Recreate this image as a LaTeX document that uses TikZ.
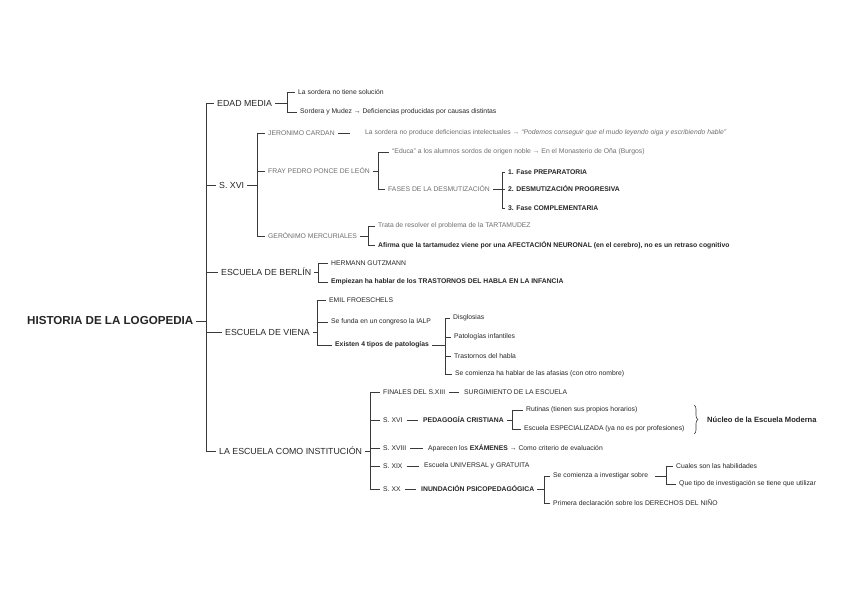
\documentclass[tikz,border=0pt]{standalone}
\usepackage{fontspec}
\setmainfont{Liberation Sans}
\usetikzlibrary{decorations.pathreplacing}
\definecolor{ink}{HTML}{262626}
\definecolor{soft}{HTML}{6E6E6E}
\definecolor{rule}{HTML}{3A3A3A}
\tikzset{
  lbl/.style={anchor=west, inner xsep=3pt, inner ysep=1pt, xshift=-3pt, text=ink},
  sm/.style={lbl, font=\fontsize{6.8}{8}\selectfont},
  smg/.style={sm, text=soft},
  smb/.style={lbl, font=\fontsize{6.8}{8}\selectfont\bfseries},
  big/.style={lbl, font=\fontsize{8.8}{10}\selectfont},
  ln/.style={draw=rule, line width=0.8pt},
}
% #1 options for parent line, #2 parent, #3 bracket x, #4 first child, #5 last child, #6 all children
\newcommand\brgroup[6]{%
  \coordinate (bx-#2) at (#3,0);
  \draw[ln,#1] (#2.east) -- (#2.east -| bx-#2);
  \draw[ln] (#4.west -| bx-#2) -- (#5.west -| bx-#2);
  \foreach \c in {#6} { \draw[ln] (\c.west -| bx-#2) -- (\c.west); }
}
\begin{document}
\begin{tikzpicture}[x=1pt,y=-1pt]
\useasboundingbox[fill=white] (0,0) rectangle (848,599);

% root and level 2
\node[lbl, font=\fontsize{11.6}{13}\selectfont\bfseries] (root) at (27,321) {HISTORIA DE LA LOGOPEDIA};
\node[big] (edad) at (217,103) {EDAD MEDIA};
\node[big] (sxvi) at (219,185) {S. XVI};
\node[big] (berlin) at (221,272) {ESCUELA DE BERLÍN};
\node[big] (viena) at (225,332) {ESCUELA DE VIENA};
\node[big] (inst) at (219,451) {LA ESCUELA COMO INSTITUCIÓN};

% Edad media
\node[sm] (e1) at (298,92) {La sordera no tiene solución};
\node[sm] (e2) at (300,112) {Sordera y Mudez → Deficiencias producidas por causas distintas};

% S. XVI
\node[smg] (jc) at (268,133) {JERONIMO CARDAN};
\node[smg] (jcd) at (365,133) {La sordera no produce deficiencias intelectuales → \textit{“Podemos conseguir que el mudo leyendo oiga y escribiendo hable”}};
\node[smg] (fp) at (268,171) {FRAY PEDRO PONCE DE LEÓN};
\node[smg] (fp1) at (392,152) {“Educa” a los alumnos sordos de origen noble → En el Monasterio de Oña (Burgos)};
\node[smg] (fases) at (388,189) {FASES DE LA DESMUTIZACIÓN};
\node[smb] (f1) at (508,172) {1. Fase PREPARATORIA};
\node[smb] (f2) at (508,189) {2. DESMUTIZACIÓN PROGRESIVA};
\node[smb] (f3) at (508,208) {3. Fase COMPLEMENTARIA};
\node[smg] (gm) at (268,236) {GERÓNIMO MERCURIALES};
\node[smg] (gm1) at (378,226) {Trata de resolver el problema de la TARTAMUDEZ};
\node[smb] (gm2) at (378,245) {Afirma que la tartamudez viene por una AFECTACIÓN NEURONAL (en el cerebro), no es un retraso cognitivo};

% Berlin
\node[sm] (b1) at (331,263) {HERMANN GUTZMANN};
\node[smb] (b2) at (331,282) {Empiezan ha hablar de los TRASTORNOS DEL HABLA EN LA INFANCIA};

% Viena
\node[sm] (v1) at (329,300) {EMIL FROESCHELS};
\node[sm] (v2) at (331,322) {Se funda en un congreso la IALP};
\node[smb] (v3) at (335,345) {Existen 4 tipos de patologías};
\node[sm] (p1) at (453,318) {Disglosias};
\node[sm] (p2) at (454,337) {Patologías infantiles};
\node[sm] (p3) at (454,356) {Trastornos del habla};
\node[sm] (p4) at (455,374) {Se comienza ha hablar de las afasias (con otro nombre)};

% Escuela como institucion
\node[sm] (i1) at (383,392) {FINALES DEL S.XIII};
\node[sm] (i1b) at (464,392) {SURGIMIENTO DE LA ESCUELA};
\node[sm] (i2) at (383,420) {S. XVI};
\node[smb] (i2b) at (423,420) {PEDAGOGÍA CRISTIANA};
\node[sm] (r1) at (526,410) {Rutinas (tienen sus propios horarios)};
\node[sm] (r2) at (524,429) {Escuela ESPECIALIZADA (ya no es por profesiones)};
\node[lbl, font=\fontsize{7.6}{9}\selectfont\bfseries] (nucleo) at (707,420) {Núcleo de la Escuela Moderna};
\node[sm] (i3) at (383,448) {S. XVIII};
\node[sm] (i3b) at (428,448) {Aparecen los \textbf{EXÁMENES} → Como criterio de evaluación};
\node[sm] (i4) at (383,466) {S. XIX};
\node[sm] (i4b) at (424,466) {Escuela UNIVERSAL y GRATUITA};
\node[sm] (i5) at (383,489) {S. XX};
\node[smb] (i5b) at (421,489) {INUNDACIÓN PSICOPEDAGÓGICA};
\node[sm] (s1) at (553,476) {Se comienza a investigar sobre};
\node[sm] (s2) at (553,503) {Primera declaración sobre los DERECHOS DEL NIÑO};
\node[sm] (q1) at (676,466) {Cuales son las habilidades};
\node[sm] (q2) at (679,484) {Que tipo de investigación se tiene que utilizar};

% brackets
\brgroup{}{root}{206}{edad}{inst}{edad,sxvi,berlin,viena,inst}
\brgroup{}{edad}{287}{e1}{e2}{e1,e2}
\brgroup{}{sxvi}{257}{jc}{gm}{jc,fp,gm}
\brgroup{}{fp}{378}{fp1}{fases}{fp1,fases}
\brgroup{}{fases}{502}{f1}{f3}{f1,f2,f3}
\brgroup{}{gm}{368}{gm1}{gm2}{gm1,gm2}
\brgroup{}{berlin}{318}{b1}{b2}{b1,b2}
\brgroup{}{viena}{317}{v1}{v3}{v1,v2,v3}
\brgroup{}{v3}{445}{p1}{p4}{p1,p2,p3,p4}
\brgroup{}{inst}{370}{i1}{i5}{i1,i2,i3,i4,i5}
\brgroup{}{i2b}{512}{r1}{r2}{r1,r2}
\brgroup{}{i5b}{544}{s1}{s2}{s1,s2}
\brgroup{shorten <=4pt}{s1}{666}{q1}{q2}{q1,q2}

% inline dashes
\draw[ln, shorten >=12pt] (jc.east) -- (jcd.west);
\foreach \a/\b in {i1/i1b, i2/i2b, i3/i3b, i4/i4b, i5/i5b}
  \draw[ln, shorten <=1pt, shorten >=2pt] (\a.east) -- (\b.west);

% brace
\coordinate (bt) at (694,405);
\coordinate (bb) at (694,434);
\draw[rule, line width=0.6pt, decorate, decoration={brace, amplitude=4pt}] (bt) -- (bb);
\end{tikzpicture}
\end{document}
